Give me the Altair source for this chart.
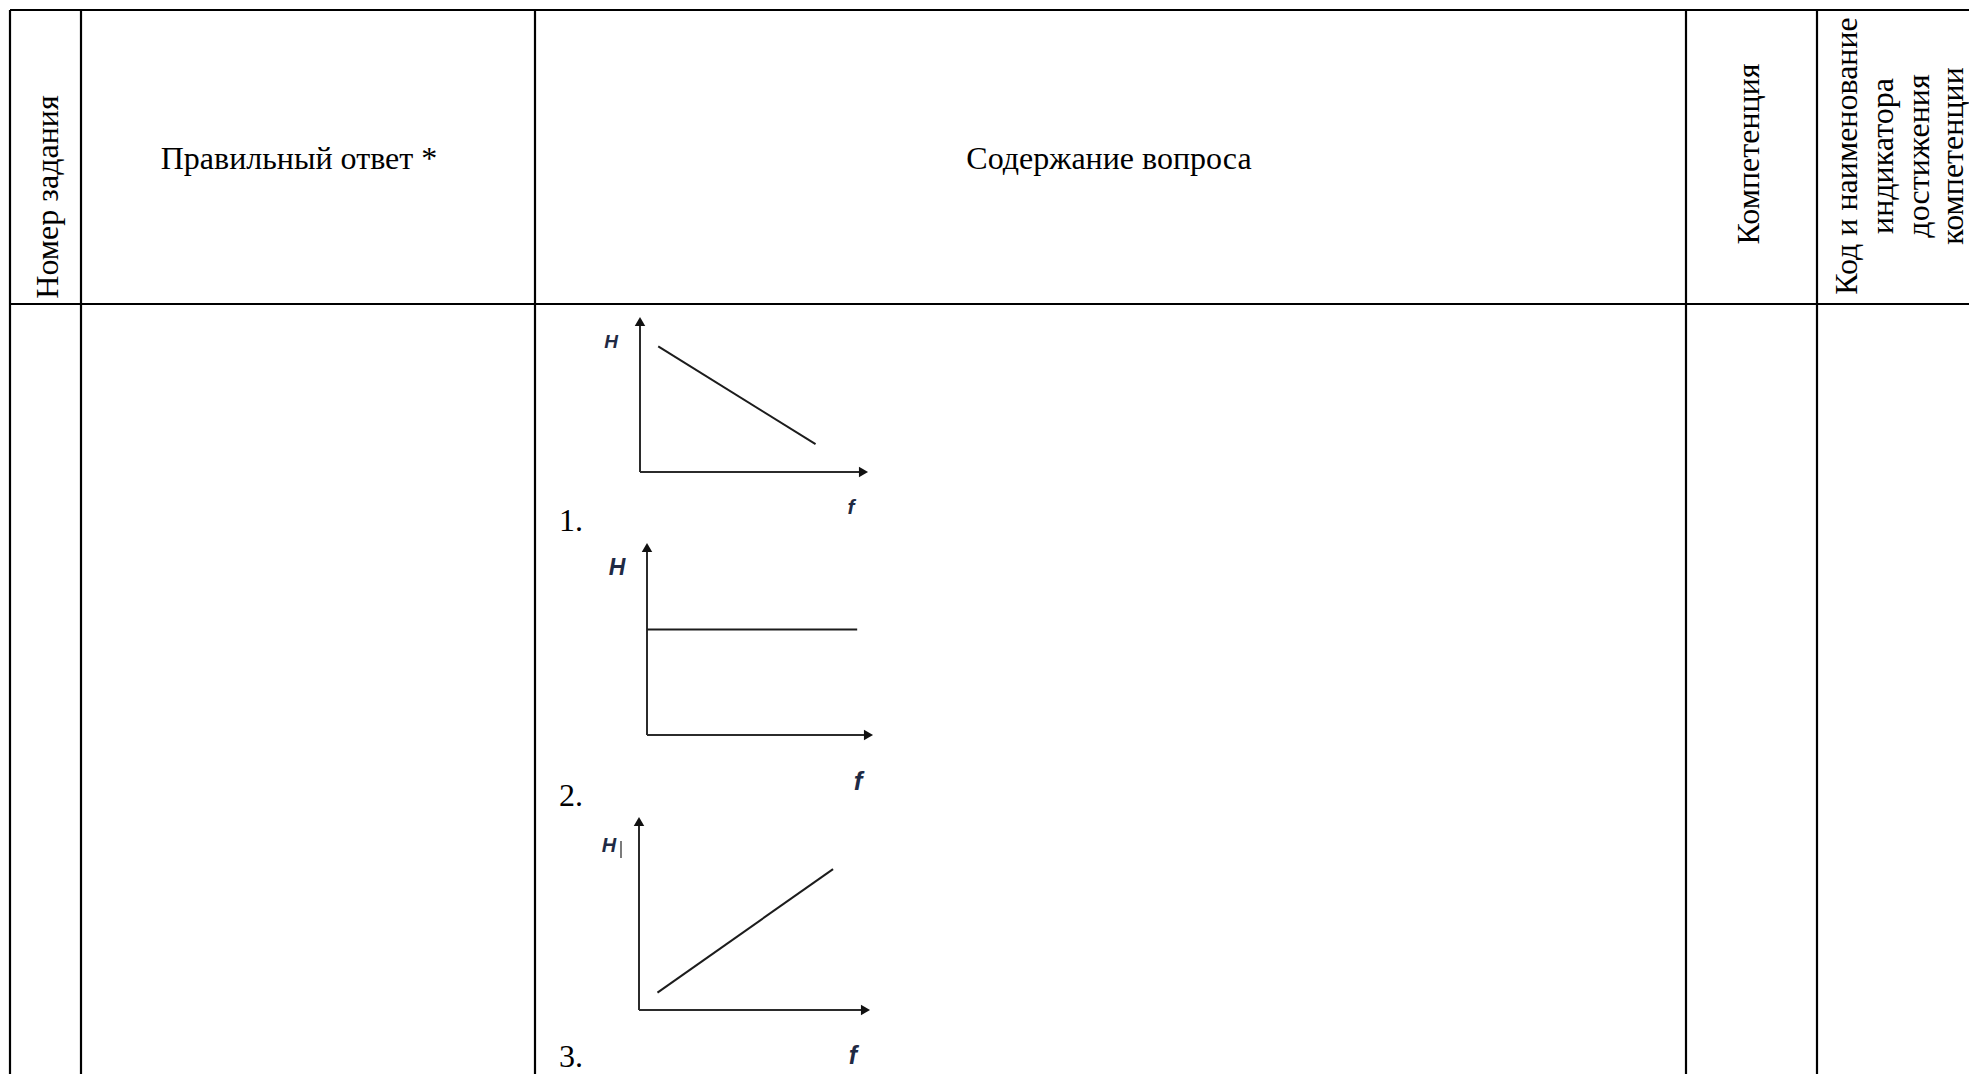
import altair as alt
import pandas as pd

# ---------------- data ----------------
header_titles = ["Номер задания", "Правильный ответ *", "Содержание вопроса", "Компетенция"]
indicator_title_lines = ["Код и наименование", "индикатора", "достижения", "компетенции"]
option_labels = ["1.", "2.", "3."]
y_axis_name = "H"
x_axis_name = "f"
# H(f) curve of each option: start / end, as a share of the axis length
curve_f_start = [0.08, 0.00, 0.08]
curve_f_end = [0.77, 0.93, 0.84]
curve_h_start = [0.81, 0.55, 0.09]
curve_h_end = [0.18, 0.55, 0.73]

# ---------------- layout (page pixels) ----------------
PAGE_W, PAGE_H = 1977, 1082
M = 8
W, H = PAGE_W - 2 * M, PAGE_H - 2 * M
col_x = [10, 81, 535, 1686, 1817]
table_top, header_bottom = 10, 304
table_right, table_bottom = PAGE_W - M, PAGE_H - M

# header text positions
hdr_pos = [(48, 197, 270), (299, 169, 0), (1109, 169, 0), (1749, 154, 270)]
ind_x = [1847, 1883, 1919, 1953]
ind_y = 156

# mini chart panels: origin, x-axis length, y-axis length
panel_ox = [640, 647, 639]
panel_oy = [472, 735, 1010]
panel_lx = [228, 226, 231]
panel_ly = [155, 192, 193]
# label placements (x, y, font size)
ylab_pos = [(611, 342, 19), (617, 568, 23), (609, 846, 20)]
xlab_pos = [(851, 508, 21), (858, 782, 26), (853, 1056, 25)]
num_pos = [(559, 531), (559, 806), (559, 1067)]
ARROW = 4.5

xs = alt.Scale(domain=[M, M + W], range=[0, W])
ys = alt.Scale(domain=[M, M + H], range=[0, H])


def X(field="x"):
    return alt.X(f"{field}:Q", scale=xs, axis=None)


def Y(field="y"):
    return alt.Y(f"{field}:Q", scale=ys, axis=None)


# ---- table grid ----
grid_rows = []
for cx in col_x:
    grid_rows.append(dict(x=cx, x2=cx, y=table_top, y2=table_bottom))
for ry in (table_top, header_bottom):
    grid_rows.append(dict(x=col_x[0], x2=table_right, y=ry, y2=ry))
grid = alt.Chart(pd.DataFrame(grid_rows)).mark_rule(color="#000", strokeWidth=2.2).encode(
    x=X(), x2="x2:Q", y=Y(), y2="y2:Q")

# ---- header texts ----
flat_rows, rot_rows = [], []
for title, (tx, ty, ang) in zip(header_titles, hdr_pos):
    if ang == 0:
        flat_rows.append(dict(t=title, x=tx, y=ty))
    else:
        rot_rows.append(dict(t=title, x=tx, y=ty))
for line, lx in zip(indicator_title_lines, ind_x):
    rot_rows.append(dict(t=line, x=lx, y=ind_y))

serif = "Liberation Serif"
flat_text = alt.Chart(pd.DataFrame(flat_rows)).mark_text(
    font=serif, fontSize=32, color="#000", align="center", baseline="alphabetic").encode(
    x=X(), y=Y(), text="t:N")
rot_text = alt.Chart(pd.DataFrame(rot_rows)).mark_text(
    font=serif, fontSize=32, color="#000", align="center", baseline="middle", angle=270).encode(
    x=X(), y=Y(), text="t:N")

# ---- option numbers ----
num_text = alt.Chart(pd.DataFrame(
    [dict(t=t, x=p[0], y=p[1]) for t, p in zip(option_labels, num_pos)])).mark_text(
    font=serif, fontSize=32, color="#000", align="left", baseline="alphabetic").encode(
    x=X(), y=Y(), text="t:N")

# ---- mini chart axes ----
panel_df = pd.DataFrame(dict(ox=panel_ox, oy=panel_oy, lx=panel_lx, ly=panel_ly))
yaxis = alt.Chart(panel_df).transform_calculate(
    x="datum.ox", y="datum.oy", y2=f"datum.oy - datum.ly + {ARROW}").mark_rule(
    color="#2b2b2b", strokeWidth=2).encode(x=X(), y=Y(), y2="y2:Q")
xaxis = alt.Chart(panel_df).transform_calculate(
    x="datum.ox", x2=f"datum.ox + datum.lx - {ARROW}", y="datum.oy").mark_rule(
    color="#2b2b2b", strokeWidth=2).encode(x=X(), x2="x2:Q", y=Y())
up_arrow = alt.Chart(panel_df).transform_calculate(
    x="datum.ox", y=f"datum.oy - datum.ly + {ARROW}").mark_point(
    shape="triangle-up", filled=True, size=110, color="#111", opacity=1).encode(x=X(), y=Y())
right_arrow = alt.Chart(panel_df).transform_calculate(
    x=f"datum.ox + datum.lx - {ARROW}", y="datum.oy").mark_point(
    shape="triangle-right", filled=True, size=110, color="#111", opacity=1).encode(x=X(), y=Y())

# ---- H(f) curves ----
curve_df = panel_df.assign(f0=curve_f_start, f1=curve_f_end, h0=curve_h_start, h1=curve_h_end)
curves = alt.Chart(curve_df).transform_calculate(
    x="datum.ox + datum.f0 * datum.lx",
    x2="datum.ox + datum.f1 * datum.lx",
    y="datum.oy - datum.h0 * datum.ly",
    y2="datum.oy - datum.h1 * datum.ly").mark_rule(
    color="#1c1c1c", strokeWidth=2).encode(x=X(), x2="x2:Q", y=Y(), y2="y2:Q")

# ---- axis names (one text mark per label, so each keeps its own size) ----
name_layers = []
for name, positions in ((y_axis_name, ylab_pos), (x_axis_name, xlab_pos)):
    for (lx, ly, fs) in positions:
        name_layers.append(
            alt.Chart(pd.DataFrame([dict(t=name, x=lx, y=ly)])).mark_text(
                font="Liberation Sans", fontStyle="italic", fontWeight="bold",
                fontSize=fs, color="#1f2a44", align="center", baseline="middle"
            ).encode(x=X(), y=Y(), text="t:N"))

# text cursor after the third "H"
cursor = alt.Chart(pd.DataFrame([dict(x=621, y=841, y2=858)])).mark_rule(
    color="#444", strokeWidth=1.4).encode(x=X(), y=Y(), y2="y2:Q")

chart = alt.layer(
    grid, flat_text, rot_text, num_text, yaxis, xaxis, up_arrow, right_arrow,
    curves, *name_layers, cursor
).properties(
    width=W, height=H, padding=0, autosize=alt.AutoSizeParams(type="none"),
    background="#ffffff"
).configure_view(stroke=None)

chart.save("out.html", embed_options={"renderer": "svg", "actions": False})
